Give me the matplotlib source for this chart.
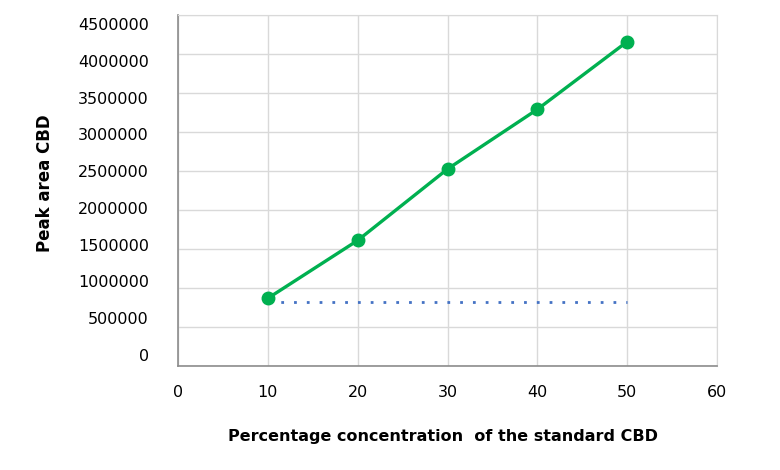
import numpy as np
import matplotlib
matplotlib.use("Agg")
import matplotlib.pyplot as plt

# standard CBD calibration
conc = [10, 20, 30, 40, 50]
peak_area = [868000, 1610000, 2525000, 3290000, 4158000]
baseline = [824000, 824000, 824000, 824000, 824000]

x_ticks = [0, 10, 20, 30, 40, 50, 60]
y_ticks = [0, 500000, 1000000, 1500000, 2000000, 2500000, 3000000, 3500000, 4000000, 4500000]

plt.rcParams['font.family'] = ['DejaVu Sans']

fig = plt.figure(figsize=(7.8, 4.7), dpi=100)
ax = fig.add_axes([178/780, 1 - 366/470, (717-178)/780, (366-15)/470])

ax.plot(conc, baseline, linestyle=(0, (1, 3.6)), color='#4472C4', linewidth=2.0, zorder=2)
ax.plot(conc, peak_area, color='#00B050', linewidth=2.4, marker='o', markersize=9, zorder=3)

ax.set_xlim(0, 60)
ax.set_ylim(0, 4500000)
ax.set_xticks(x_ticks)
ax.set_yticks(y_ticks)
ax.set_yticklabels([])
ax.grid(True, color='#D9D9D9', linewidth=1)
ax.set_axisbelow(True)
ax.tick_params(axis='both', length=0)
ax.tick_params(axis='x', pad=14, labelsize=11.5, labelcolor='#000000')

for side in ['top', 'right']:
    ax.spines[side].set_color('#D9D9D9')
ax.spines['left'].set_color('#8C8C8C')
ax.spines['bottom'].set_color('#8C8C8C')
ax.spines['left'].set_linewidth(1.2)
ax.spines['bottom'].set_linewidth(1.2)

# the value labels sit slightly off the gridlines in the original
ax2 = ax.twinx()
ax2.set_ylim(-149546, 4622357)
ax2.set_yticks(y_ticks)
ax2.set_yticklabels([str(v) for v in y_ticks])
ax2.yaxis.tick_left()
ax2.tick_params(axis='y', length=0, pad=21, labelsize=11.5)
for s in ax2.spines.values():
    s.set_visible(False)

fig.text(443/780, 1 - 437/470, 'Percentage concentration  of the standard CBD',
         ha='center', va='center', fontsize=11.5, fontweight='bold')
fig.text(45/780, 1 - 183/470, 'Peak area CBD', rotation=90,
         ha='center', va='center', fontsize=12, fontweight='bold')

plt.savefig('out.png', dpi=100)
